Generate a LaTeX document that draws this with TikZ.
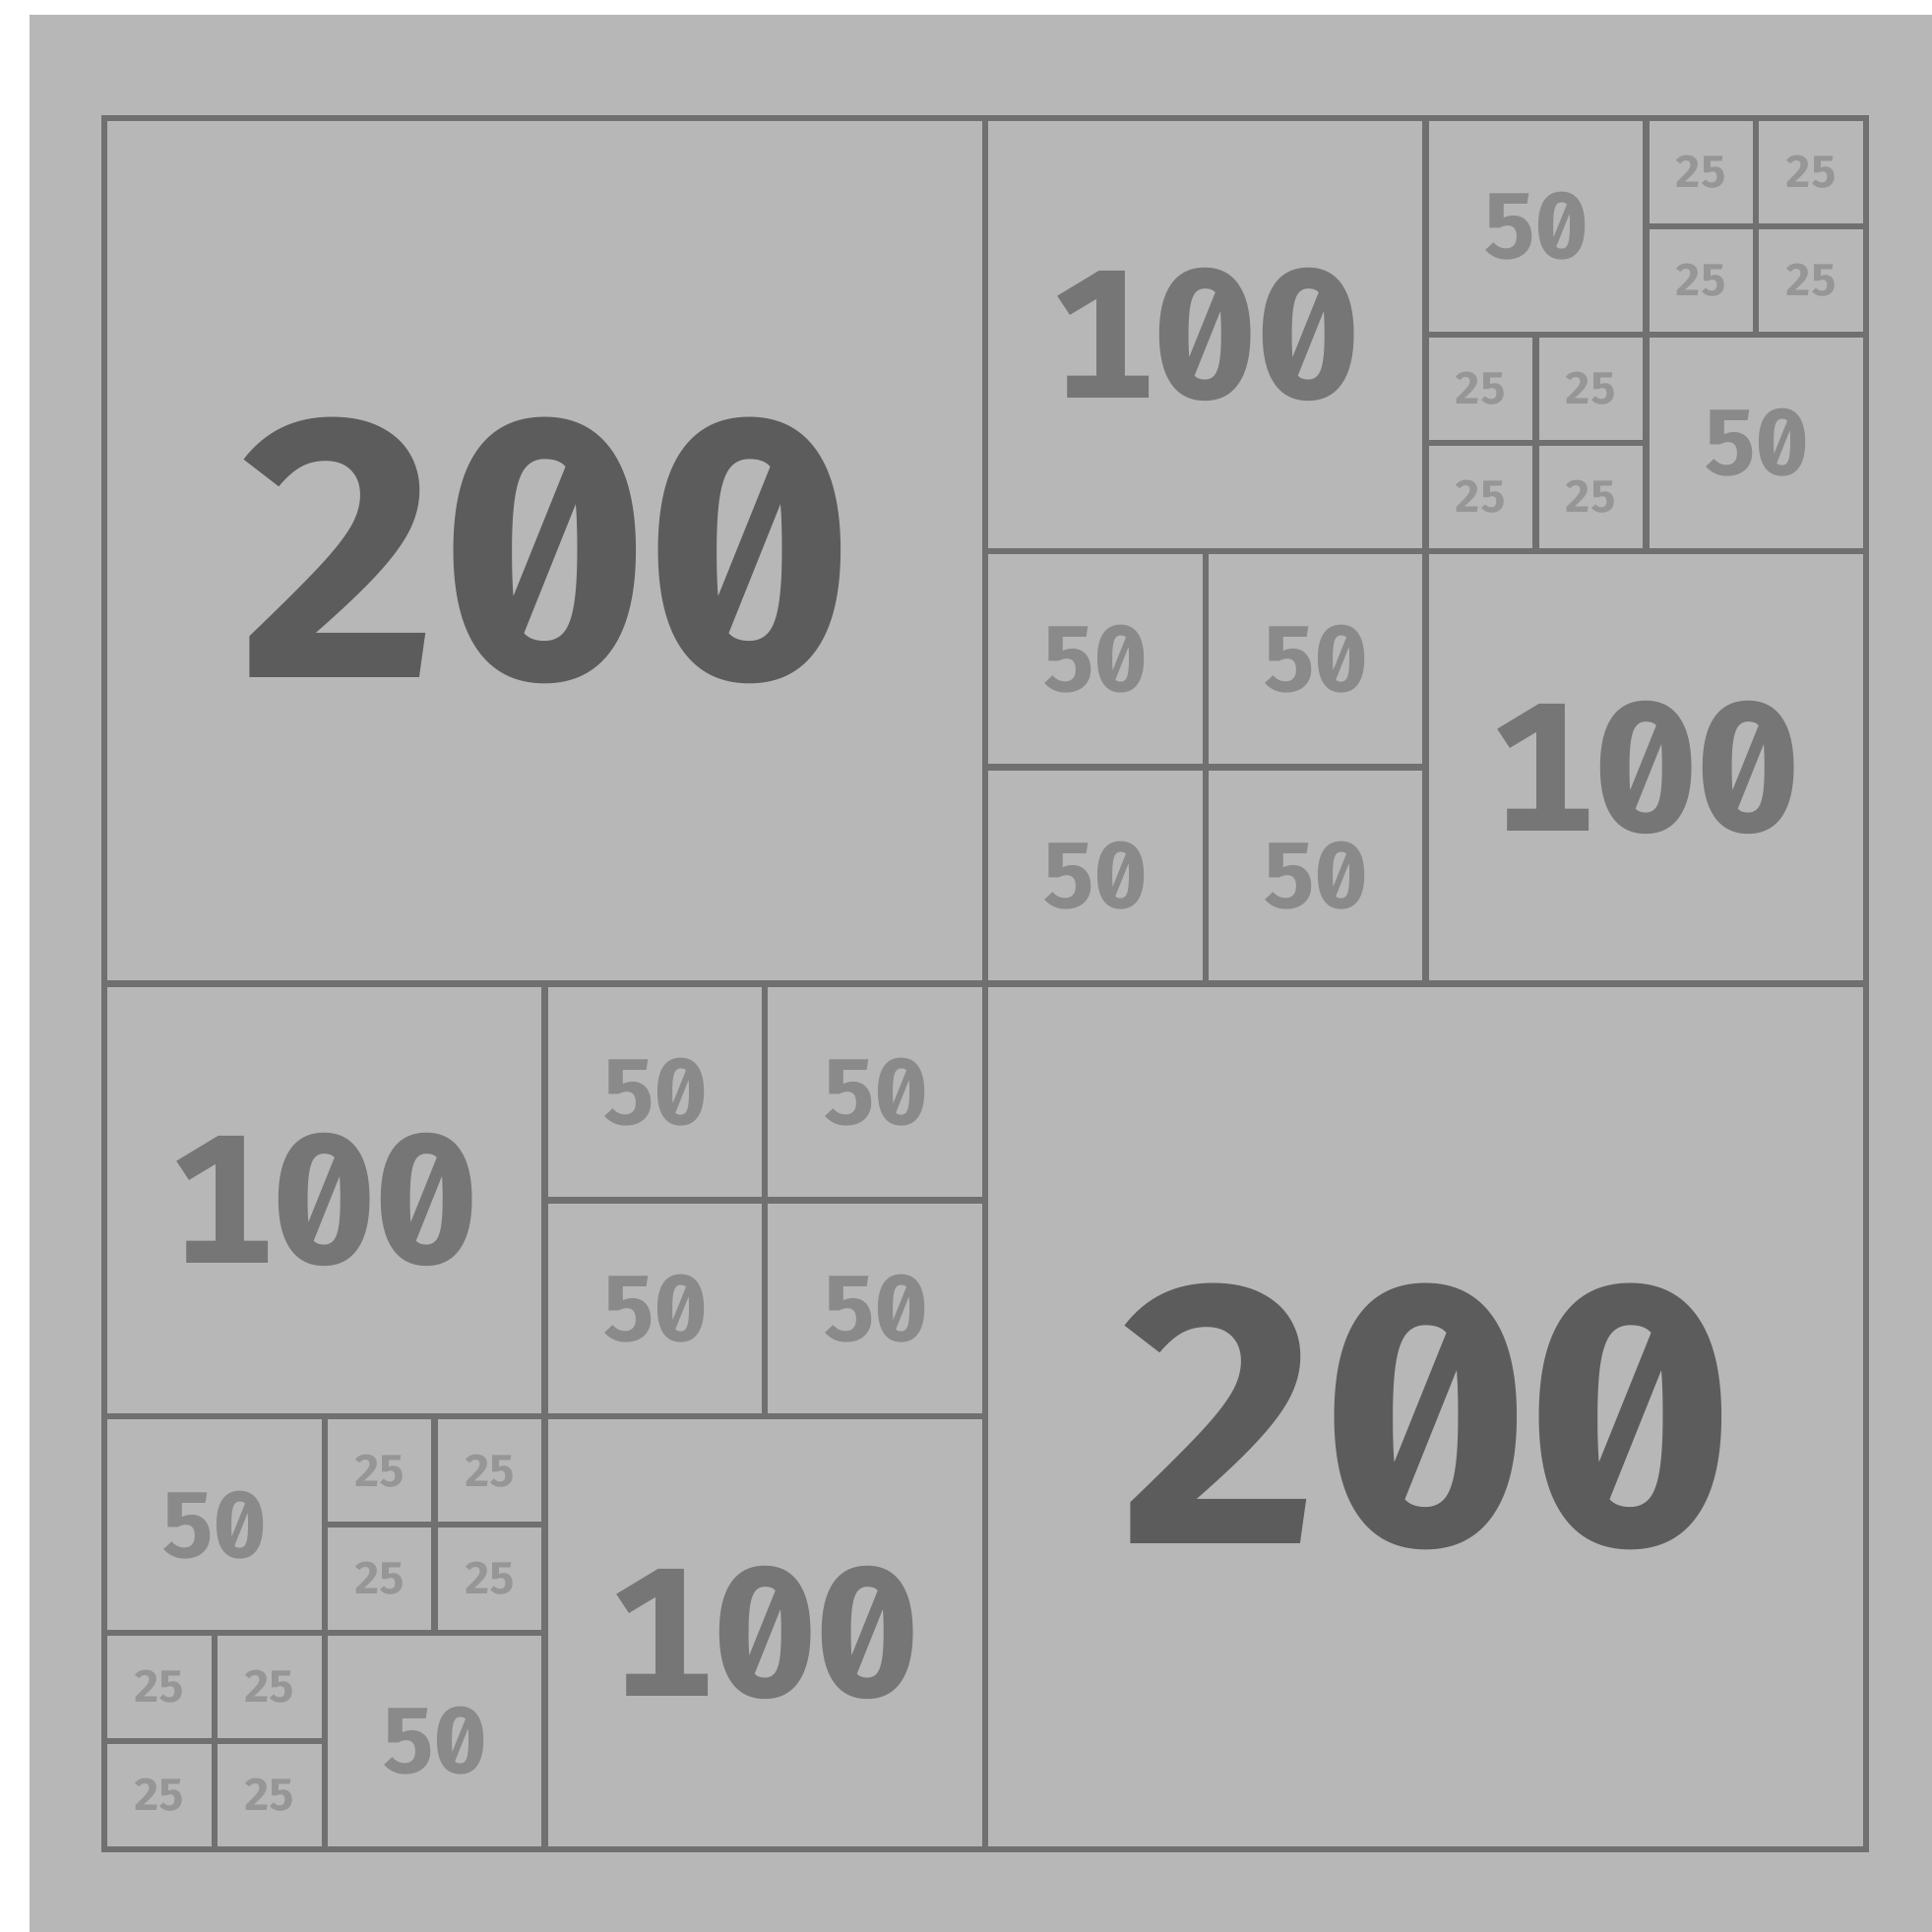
\documentclass[tikz,border=0pt]{standalone}
\usepackage{fontspec}
\usepackage{xcolor}
\usetikzlibrary{positioning}
\newfontfamily\digitfont{Fira Sans}[RawFeature={+zero;+tnum}]
\definecolor{paper}{RGB}{183,183,183}
\definecolor{rule}{RGB}{112,112,112}
\definecolor{inkA}{RGB}{92,92,92}
\definecolor{inkB}{RGB}{118,118,118}
\definecolor{inkC}{RGB}{138,138,138}
\definecolor{inkD}{RGB}{150,150,150}

\begin{document}
\begin{tikzpicture}[
                grid/.style={draw=rule, line width=1.8pt},
                lab/.style={inner sep=0pt, font=\digitfont\bfseries},
                big/.style={lab, text=inkA, font=\digitfont\bfseries\fontsize{106}{106}\selectfont},
                mid/.style={lab, text=inkB, font=\digitfont\bfseries\fontsize{53}{53}\selectfont},
                small/.style={lab, text=inkC, font=\digitfont\bfseries\fontsize{27}{27}\selectfont},
                tiny/.style={lab, text=inkD, font=\digitfont\bfseries\fontsize{13}{13}\selectfont}
            ]
            % paper
            \fill[white] (0,0) rectangle (19.63,19.63);
            \fill[paper] (0.30,0) rectangle (19.63,19.48);
            \begin{scope}[shift={(1.06,18.43)}, x=0.04475cm, y=-0.04398cm]
            % outer square and quadrants
            \draw[grid] (0,0) rectangle (400,400);
            \draw[grid] (200,0) -- (200,400);
            \draw[grid] (0,200) -- (400,200);
            % upper right quadrant
            \draw[grid] (300,0) -- (300,200);
            \draw[grid] (200,100) -- (400,100);
            \draw[grid] (350,0) -- (350,100);
            \draw[grid] (300,50) -- (400,50);
            \draw[grid] (375,0) -- (375,50);
            \draw[grid] (350,25) -- (400,25);
            \draw[grid] (325,50) -- (325,100);
            \draw[grid] (300,75) -- (350,75);
            \draw[grid] (250,100) -- (250,200);
            \draw[grid] (200,150) -- (300,150);
            % lower left quadrant
            \draw[grid] (100,200) -- (100,400);
            \draw[grid] (0,300) -- (200,300);
            \draw[grid] (150,200) -- (150,300);
            \draw[grid] (100,250) -- (200,250);
            \draw[grid] (50,300) -- (50,400);
            \draw[grid] (0,350) -- (100,350);
            \draw[grid] (75,300) -- (75,350);
            \draw[grid] (50,325) -- (100,325);
            \draw[grid] (25,350) -- (25,400);
            \draw[grid] (0,375) -- (50,375);
            % labels
            \node[big] (bigTL) at (100,100) {200};
            \node[big] (bigBR) at (300,300) {200};
            \node[mid] (midA) at (250,50) {100};
            \node[mid] (midB) at (350,150) {100};
            \node[mid] (midC) at (50,250) {100};
            \node[mid] (midD) at (150,350) {100};
            \foreach \x/\y [count=\i] in {325/25, 375/75, 225/125, 275/125, 225/175, 275/175,
                    125/225, 175/225, 125/275, 175/275, 25/325, 75/375}
                \node[small] (fifty\i) at (\x,\y) {50};
            \foreach \x/\y [count=\i] in {362.5/12.5, 387.5/12.5, 362.5/37.5, 387.5/37.5,
                    312.5/62.5, 337.5/62.5, 312.5/87.5, 337.5/87.5,
                    62.5/312.5, 87.5/312.5, 62.5/337.5, 87.5/337.5,
                    12.5/362.5, 37.5/362.5, 12.5/387.5, 37.5/387.5}
                \node[tiny] (quarter\i) at (\x,\y) {25};
            \end{scope}
        \end{tikzpicture}
\end{document}
